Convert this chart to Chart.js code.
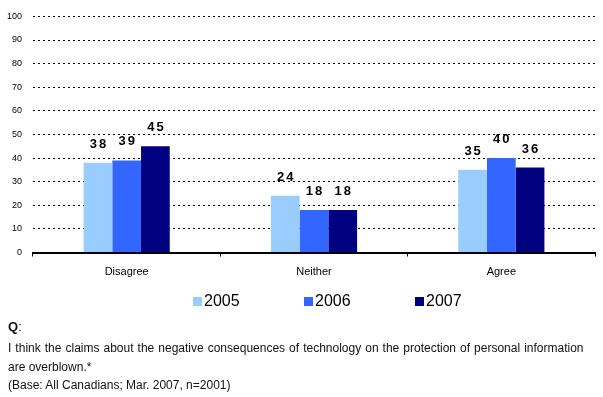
<!DOCTYPE html>
<html><head><meta charset="utf-8">
<script src="https://cdn.jsdelivr.net/npm/chart.js@4"></script>
<style>
html,body{margin:0;padding:0;background:#fff;}
#wrap{position:relative;width:603px;height:397px;overflow:hidden;}
canvas{position:absolute;left:0;top:0;}
.q{position:absolute;left:8px;font-family:"Liberation Sans",Arial,sans-serif;color:#111;white-space:nowrap;line-height:20px;font-size:12px;}
</style></head><body>
<div id="wrap">
<canvas id="c" width="603" height="397"></canvas>
<div class="q" style="top:317px;font-size:13px;"><b>Q</b>:</div>
<div class="q" style="top:338px;word-spacing:0.7px;">I think the claims about the negative consequences of technology on the protection of personal information</div>
<div class="q" style="top:357px;">are overblown.*</div>
<div class="q" style="top:375px;">(Base: All Canadians; Mar. 2007, n=2001)</div>
</div>
<script>
const categories = ["Disagree", "Neither", "Agree"];
const seriesLabels = ["2005", "2006", "2007"];
const values2005 = [38, 24, 35];
const values2006 = [39, 18, 40];
const values2007 = [45, 18, 36];
const yTickValues = [0, 10, 20, 30, 40, 50, 60, 70, 80, 90, 100];

const colors = ["#99CCFF", "#3366FF", "#000080"];
const FONT = '"Liberation Sans", Arial, sans-serif';

const valueLabels = {
  id: 'valueLabels',
  afterDatasetsDraw(chart) {
    const ctx = chart.ctx;
    ctx.save();
    ctx.font = 'bold 13px ' + FONT;
    ctx.fillStyle = '#000';
    ctx.textAlign = 'center';
    ctx.textBaseline = 'alphabetic';
    if ('letterSpacing' in ctx) ctx.letterSpacing = '2px';
    chart.data.datasets.forEach((ds, i) => {
      chart.getDatasetMeta(i).data.forEach((bar, j) => {
        ctx.fillText(String(ds.data[j]), bar.x + 1, bar.y - 15);
      });
    });
    ctx.restore();
  }
};

const customLegend = {
  id: 'customLegend',
  afterDraw(chart) {
    const ctx = chart.ctx;
    ctx.save();
    ctx.font = '16px ' + FONT;
    ctx.textBaseline = 'alphabetic';
    ctx.textAlign = 'left';
    const startX = 193, step = 111, baseY = 306;
    chart.data.datasets.forEach((ds, i) => {
      const x = startX + i * step;
      ctx.fillStyle = ds.backgroundColor;
      ctx.fillRect(x, 297, 9, 9);
      ctx.fillStyle = '#000';
      ctx.fillText(ds.label, x + 11, baseY);
    });
    ctx.restore();
  }
};

new Chart(document.getElementById('c'), {
  type: 'bar',
  data: {
    labels: categories,
    datasets: [
      { label: seriesLabels[0], data: values2005, backgroundColor: colors[0] },
      { label: seriesLabels[1], data: values2006, backgroundColor: colors[1] },
      { label: seriesLabels[2], data: values2007, backgroundColor: colors[2] }
    ]
  },
  options: {
    responsive: false,
    animation: false,
    events: [],
    layout: { padding: { left: 0, right: 8, top: 11.5, bottom: 114.5 } },
    datasets: { bar: { categoryPercentage: 0.46, barPercentage: 1, borderWidth: 0 } },
    plugins: { legend: { display: false }, tooltip: { enabled: false } },
    scales: {
      x: {
        afterFit(s) { s.height = 30; },
        grid: { display: true, drawOnChartArea: false, drawTicks: true, tickLength: 4, tickColor: '#000', offset: true },
        border: { display: true, color: '#000', width: 2 },
        ticks: { color: '#000', font: { family: FONT, size: 11 }, padding: 9, maxRotation: 0 }
      },
      y: {
        min: 0, max: 100,
        afterFit(s) { s.width = 33; },
        afterBuildTicks(s) { s.ticks = yTickValues.map(v => ({ value: v })); },
        grid: { color: '#000', lineWidth: 1, drawTicks: false },
        border: { display: false, dash: [2, 3] },
        ticks: { color: '#000', font: { family: FONT, size: 9 }, padding: 11 }
      }
    }
  },
  plugins: [valueLabels, customLegend]
});
</script>
</body></html>
